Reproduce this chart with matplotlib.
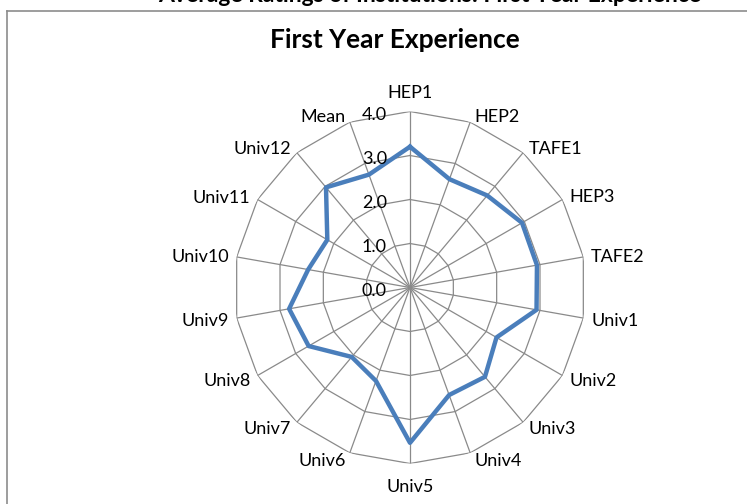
import matplotlib
matplotlib.use("Agg")
import matplotlib.pyplot as plt
import numpy as np
from matplotlib.lines import Line2D

plt.rcParams['font.family'] = ['Lato', 'DejaVu Sans']

# values
categories = ["HEP1", "HEP2", "TAFE1", "HEP3", "TAFE2", "Univ1", "Univ2", "Univ3",
              "Univ4", "Univ5", "Univ6", "Univ7", "Univ8", "Univ9", "Univ10",
              "Univ11", "Univ12", "Mean"]
scores = [3.20, 2.62, 2.73, 2.94, 2.93, 2.92, 2.27, 2.65, 2.60, 3.53,
          2.26, 2.06, 2.66, 2.79, 2.35, 2.17, 2.97, 2.73]
ring_levels = [0.0, 1.0, 2.0, 3.0, 4.0]

W, H = 747, 504
fig = plt.figure(figsize=(W / 100, H / 100), dpi=100)

# chart frame (left and top edges visible in the crop)
fx = 7 / W
fy = 1 - 10.7 / H
fig.add_artist(Line2D([fx, fx], [0, fy], transform=fig.transFigure, color='#8c8c8c', lw=1.2))
fig.add_artist(Line2D([fx, 1], [fy, fy], transform=fig.transFigure, color='#8c8c8c', lw=1.2))

# cut-off heading above the chart (only its lower edge shows)
fig.text(430 / W, 1 - 2 / H, "Average Ratings of Institutions: First Year Experience",
         ha='center', va='baseline', fontsize=16.5, fontweight='bold')

fig.text(395 / W, 1 - 40 / H, "First Year Experience", ha='center', va='center',
         fontsize=19, fontweight='bold')

cx, cy, R = 410, 287.5, 176
ax = fig.add_axes([(cx - R) / W, (H - cy - R) / H, 2 * R / W, 2 * R / H], projection='polar')
ax.set_theta_zero_location('N')
ax.set_theta_direction(-1)
ax.set_ylim(0, 4)
ax.grid(False)
ax.spines['polar'].set_visible(False)
ax.set_xticks([])
ax.set_yticks([])

n = len(categories)
theta = np.arange(n) * 2 * np.pi / n
theta_c = np.append(theta, theta[0])

grid_col = '#8a8a8a'
for r in ring_levels[1:]:
    ax.plot(theta_c, [r] * (n + 1), color=grid_col, lw=0.9, zorder=1)
for t in theta:
    ax.plot([t, t], [0, 4], color=grid_col, lw=0.9, zorder=1)

vals = np.append(scores, scores[0])
ax.plot(theta_c, vals, color='#4a7ebb', lw=3.2, zorder=3, solid_joinstyle='round')

px = 72 / 100  # pixels -> points
for t, name in zip(theta, categories):
    s, c = np.sin(t), np.cos(t)
    if abs(s) < 0.1:
        ha = 'center'
        dx = 0
        dy = 18.5 if c > 0 else -23
    else:
        ha = 'left' if s > 0 else 'right'
        dx = np.sign(s) * (2 + 6 * abs(s))
        dy = 7 * c - 1.5
    ax.annotate(name, xy=(t, 4), xytext=(dx * px, dy * px), textcoords='offset points',
                ha=ha, va='center', fontsize=13, annotation_clip=False)

for v in ring_levels:
    ax.annotate(f"{v:.1f}", xy=(0, v), xytext=(-23 * px, -3.5 * px), textcoords='offset points',
                ha='right', va='center', fontsize=13, annotation_clip=False, zorder=4)

fig.savefig('out.png', dpi=100)
